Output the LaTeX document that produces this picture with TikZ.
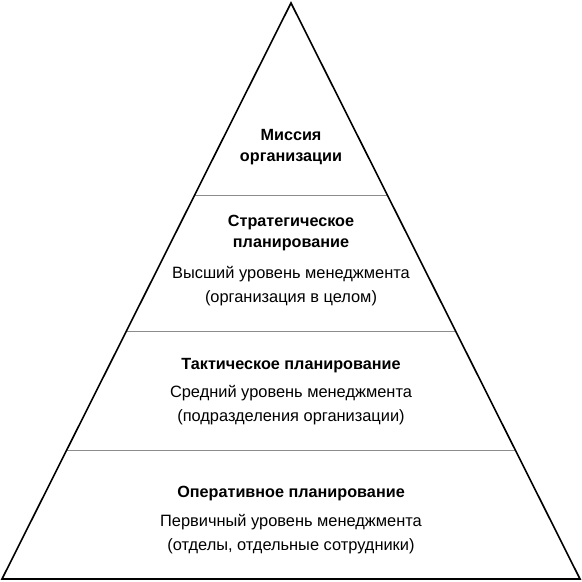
\documentclass[tikz,border=0pt]{standalone}
\usepackage{fontspec}
\setmainfont{Liberation Sans}
\begin{document}
\begin{tikzpicture}[x=1pt,y=-1pt,
  edge/.style={draw=black,line width=1.6pt,line join=miter},
  divider/.style={draw=black!45,line width=0.7pt},
  title/.style={font=\fontsize{16.2}{21.5}\selectfont\bfseries,align=center,inner sep=0pt},
  body/.style={font=\fontsize{16.4}{24}\selectfont,align=center,inner sep=0pt}]
\useasboundingbox (0,0) rectangle (582,582);
\coordinate (apex) at (291,3);
\coordinate (baseL) at (2,579);
\coordinate (baseR) at (580,579);
% dividers
\foreach \y/\n in {195/one,331/two,450/three}{
  \coordinate (div\n L) at ({291-(\y-3)/576*289},\y);
  \coordinate (div\n R) at ({291+(\y-3)/576*289},\y);
  \draw[divider] (div\n L) -- (div\n R);
}
\draw[edge] (apex) -- (baseR) -- (baseL) -- cycle;
\node[title] (mission) at (291,147) {Миссия\\организации};
\node[title] (strat) at (291,233) {Стратегическое\\планирование};
\node[body] (stratb) at (291,286) {Высший уровень менеджмента\\(организация в целом)};
\node[title] (tact) at (291,366) {Тактическое планирование};
\node[body] (tactb) at (291,405) {Средний уровень менеджмента\\(подразделения организации)};
\node[title] (oper) at (291,494) {Оперативное планирование};
\node[body] (operb) at (291,534) {Первичный уровень менеджмента\\(отделы, отдельные сотрудники)};
\end{tikzpicture}
\end{document}
